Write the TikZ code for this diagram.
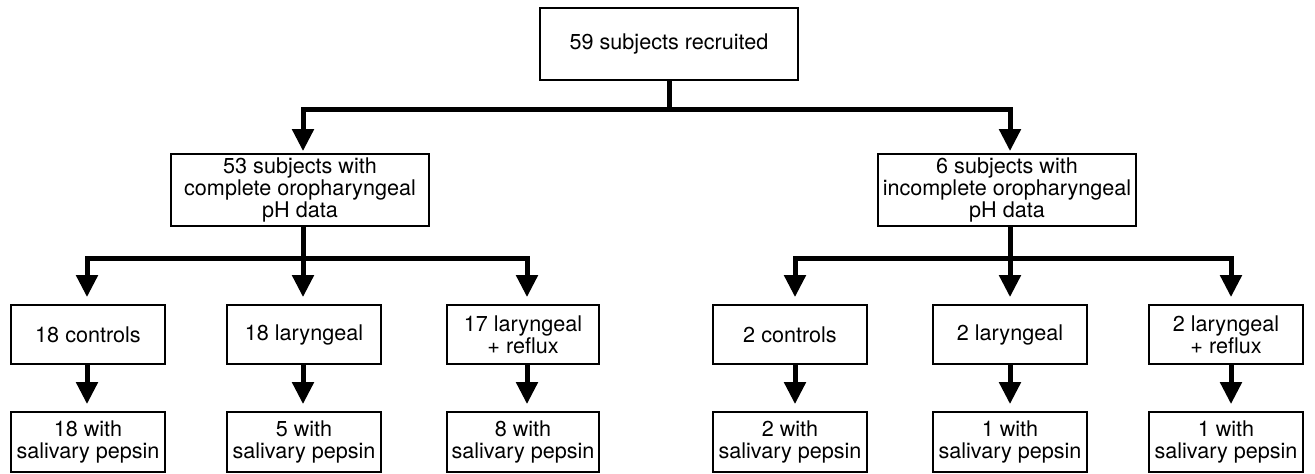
\documentclass[tikz,border=0pt]{standalone}
\usepackage{fontspec}
\setmainfont{TeX Gyre Heros}
\usetikzlibrary{arrows.meta}
\begin{document}
\begin{tikzpicture}[x=1pt,y=-1pt,
  box/.style={draw,line width=1.8pt,align=center,inner sep=0pt,
    font=\fontsize{21.6}{22.3}\selectfont},
  conn/.style={line width=5pt},
  arr/.style={line width=5pt,-{Triangle[width=21pt,length=22pt]}}]
\useasboundingbox (0,0) rectangle (1315,474);
% top
\node[box,minimum width=258pt,minimum height=72pt] (top) at (669,44) {59 subjects recruited};
% mid
\node[box,minimum width=258pt,minimum height=72pt] (m1) at (300,190) {53 subjects with\\complete oropharyngeal\\pH data};
\node[box,minimum width=258pt,minimum height=72pt] (m2) at (1007,190) {6 subjects with\\incomplete oropharyngeal\\pH data};
% row 1
\tikzset{rbox/.style={box,minimum width=154pt,minimum height=59pt}}
\node[rbox] (a1) at (88,334.5) {18 controls};
\node[rbox] (a2) at (304,334.5) {18 laryngeal};
\node[rbox,minimum width=152pt] (a3) at (523,334.5) {17 laryngeal\\+ reflux};
\node[rbox] (a4) at (790,334.5) {2 controls};
\node[rbox] (a5) at (1010,334.5) {2 laryngeal};
\node[rbox] (a6) at (1226,334.5) {2 laryngeal\\+ reflux};
% row 2
\tikzset{bbox/.style={box,minimum width=154pt,minimum height=60pt}}
\node[bbox] (b1) at (88,442) {18 with\\salivary pepsin};
\node[bbox] (b2) at (304,442) {5 with\\salivary pepsin};
\node[bbox,minimum width=152pt] (b3) at (523,442) {8 with\\salivary pepsin};
\node[bbox] (b4) at (790,442) {2 with\\salivary pepsin};
\node[bbox] (b5) at (1010,442) {1 with\\salivary pepsin};
\node[bbox] (b6) at (1226,442) {1 with\\salivary pepsin};
% junction coordinates
\coordinate (j0) at (669,109);
\coordinate (j1) at (300,258);
\coordinate (j2) at (1010,258);
% top connectors
\draw[conn] (top.south) -- (j0);
\draw[arr,shorten >=2pt] (j0) -| ([xshift=3pt]m1.north);
\draw[arr,shorten >=2pt] (j0) -| ([xshift=3pt]m2.north);
% left group
\draw[conn] ([xshift=3pt]m1.south) -- ([xshift=3pt]j1);
\draw[arr,shorten >=7pt] ([xshift=3pt]j1) -| ([xshift=-1pt]a1.north);
\draw[arr,shorten >=7pt] ([xshift=3pt]j1) -- ([xshift=-1pt]a2.north);
\draw[arr,shorten >=7pt] ([xshift=3pt]j1) -| ([xshift=4pt]a3.north);
% right group
\draw[conn] (m2.south -| j2) -- (j2);
\draw[arr,shorten >=7pt] (j2) -| ([xshift=5pt]a4.north);
\draw[arr,shorten >=7pt] (j2) -- (a5.north);
\draw[arr,shorten >=7pt] (j2) -| ([xshift=5pt]a6.north);
% second arrows
\draw[arr,shorten >=7pt] ([xshift=-1pt]a1.south) -- ([xshift=-1pt]b1.north);
\draw[arr,shorten >=7pt] ([xshift=-1pt]a2.south) -- ([xshift=-1pt]b2.north);
\draw[arr,shorten >=7pt] ([xshift=4pt]a3.south) -- ([xshift=4pt]b3.north);
\draw[arr,shorten >=7pt] ([xshift=5pt]a4.south) -- ([xshift=5pt]b4.north);
\draw[arr,shorten >=7pt] (a5.south) -- (b5.north);
\draw[arr,shorten >=7pt] ([xshift=5pt]a6.south) -- ([xshift=5pt]b6.north);
\end{tikzpicture}
\end{document}
